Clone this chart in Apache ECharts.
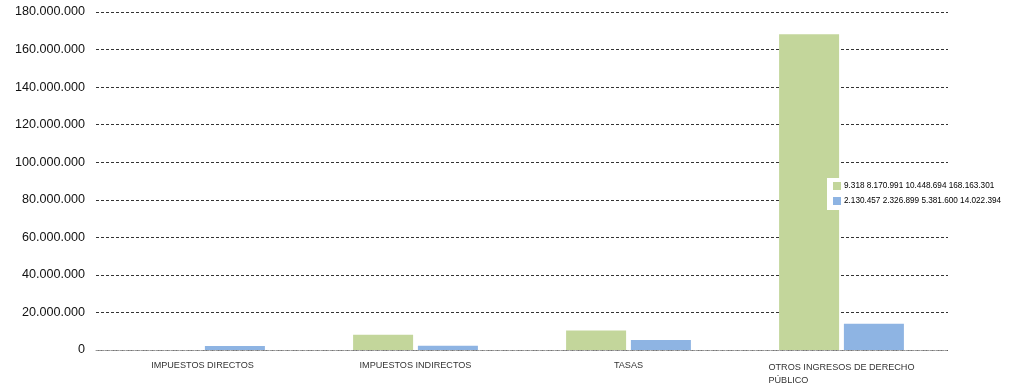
<!DOCTYPE html>
<html>
<head>
<meta charset="utf-8">
<script src="https://cdn.jsdelivr.net/npm/echarts@6/dist/echarts.min.js"></script>
<style>
	html, body { margin: 0; padding: 0; background: #fff; }
	#chart { width: 1010px; height: 389px; }
</style>
</head>
<body>
<div id="chart"></div>
<script>
// datos
var categorias = ['IMPUESTOS DIRECTOS', 'IMPUESTOS INDIRECTOS', 'TASAS', 'OTROS INGRESOS DE DERECHO PÚBLICO'];
var serieVerde = [9318, 8170991, 10448694, 168163301];
var serieAzul = [2130457, 2326899, 5381600, 14022394];

// separador de miles con punto
function fmt(v){
	return String(v).replace(/\B(?=(\d{3})+(?!\d))/g, '.');
}

var nombreVerde = serieVerde.map(fmt).join(' ');
var nombreAzul = serieAzul.map(fmt).join(' ');

var myChart = echarts.init(document.getElementById('chart'));
var fuente = '"Liberation Sans", Arial, sans-serif';

var option = {
	animation: false,
	color: ['#c3d69b', '#8eb4e3'],
	textStyle: { fontFamily: fuente },
	grid: { left: 96, right: 62, top: 12, bottom: 39 },
	legend: {
		orient: 'vertical',
		left: 827,
		top: 178,
		backgroundColor: '#fff',
		padding: [4, 4, 5, 6],
		itemWidth: 8,
		itemHeight: 8,
		itemGap: 7,
		icon: 'rect',
		textStyle: { fontSize: 8.2, color: '#000', fontFamily: fuente, padding: [0, 0, 0, -2] },
		data: [nombreVerde, nombreAzul]
	},
	xAxis: {
		type: 'category',
		data: categorias,
		axisLine: { lineStyle: { color: '#999', type: [2, 1] } },
		axisTick: { length: 6, lineStyle: { color: '#888' } },
		axisLabel: {
			fontSize: 9.1,
			color: '#333',
			margin: 11,
			interval: 0,
			formatter: function(v){
				if (v.length > 22) {
					return '{a|OTROS INGRESOS DE DERECHO}\n{a|PÚBLICO}';
				}
				return v;
			},
			rich: { a: { align: 'left', fontSize: 9.1, color: '#333', lineHeight: 13 } }
		}
	},
	yAxis: {
		type: 'value',
		min: 0,
		max: 180000000,
		interval: 20000000,
		axisLine: { show: false },
		axisTick: { show: false },
		axisLabel: {
			fontSize: 12.6,
			color: '#111',
			margin: 11,
			formatter: function(v){ return fmt(v); }
		},
		splitLine: { lineStyle: { color: '#333', type: [3, 2] } }
	},
	series: [
		{
			name: nombreVerde,
			type: 'bar',
			barWidth: 60,
			barGap: '8%',
			data: serieVerde
		},
		{
			name: nombreAzul,
			type: 'bar',
			barWidth: 60,
			barGap: '8%',
			data: serieAzul
		}
	]
};
myChart.setOption(option);
</script>
</body>
</html>
